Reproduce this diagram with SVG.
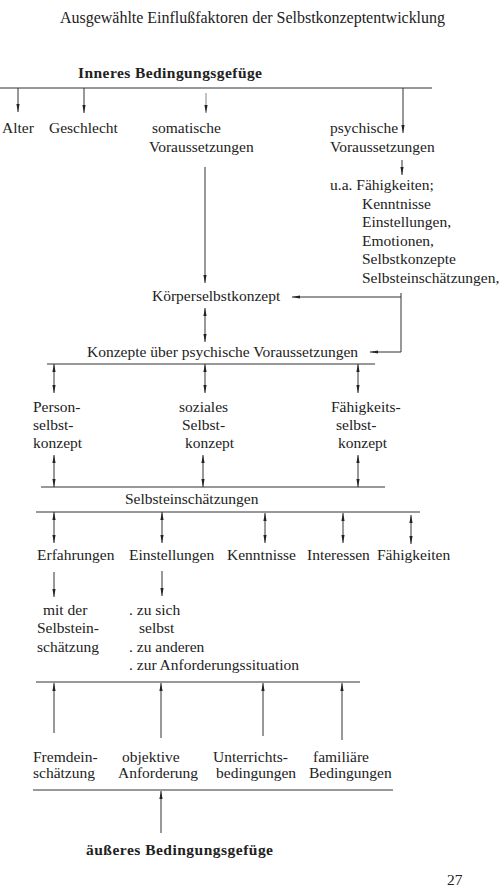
<svg xmlns="http://www.w3.org/2000/svg" width="504" height="895" viewBox="0 0 504 895">
<style>
  text { font-family: "Liberation Serif", "Times New Roman", serif; fill: #222; }
  .t { font-size: 15.5px; }
  .ti { font-size: 16px; }
  .b { font-size: 15.5px; font-weight: bold; }
  .ln { stroke: #333; stroke-width: 1; fill: none; }
  .ar { stroke: #333; stroke-width: 1; fill: none; marker-end: url(#ah); }
  .bi { stroke: #333; stroke-width: 1; fill: none; marker-end: url(#ah); marker-start: url(#ah); }
</style>
<defs>
  <marker id="ah" viewBox="0 0 8 4" refX="8" refY="2" markerWidth="8" markerHeight="4" markerUnits="userSpaceOnUse" orient="auto-start-reverse">
    <path d="M0,0.4 L8,2 L0,3.6 z" fill="#222"/>
  </marker>
</defs>
<rect width="504" height="895" fill="#fff"/>

<g id="title"><text class="ti" x="60" y="23" textLength="385" lengthAdjust="spacing">Ausgewählte Einflußfaktoren der Selbstkonzeptentwicklung</text></g>
<g id="inneres"><text class="b" x="78" y="78" textLength="184" lengthAdjust="spacing">Inneres Bedingungsgefüge</text></g>
<g id="alter"><text class="t" x="2" y="133">Alter</text></g>
<g id="geschlecht"><text class="t" x="49" y="133">Geschlecht</text></g>
<g id="somatische"><text class="t" x="152" y="133">somatische</text><text class="t" x="149" y="152">Voraussetzungen</text></g>
<g id="psychische"><text class="t" x="330" y="133">psychische</text><text class="t" x="330" y="152">Voraussetzungen</text></g>
<g id="ua">
  <text class="t" x="330" y="190">u.a. Fähigkeiten;</text>
  <text class="t" x="362" y="208.5">Kenntnisse</text>
  <text class="t" x="362" y="227">Einstellungen,</text>
  <text class="t" x="362" y="245.5">Emotionen,</text>
  <text class="t" x="362" y="264">Selbstkonzepte</text>
  <text class="t" x="362" y="282.5">Selbsteinschätzungen,</text>
</g>
<g id="koerper"><text class="t" x="152" y="301">Körperselbstkonzept</text></g>
<g id="konzepte"><text class="t" x="87" y="357">Konzepte über psychische Voraussetzungen</text></g>
<g id="person"><text class="t" x="33" y="412">Person-</text><text class="t" x="33" y="430">selbst-</text><text class="t" x="33" y="448">konzept</text></g>
<g id="sozial"><text class="t" x="179" y="412">soziales</text><text class="t" x="182" y="430">Selbst-</text><text class="t" x="185" y="448">konzept</text></g>
<g id="faehigkeits"><text class="t" x="331" y="412">Fähigkeits-</text><text class="t" x="336" y="430">selbst-</text><text class="t" x="338" y="448">konzept</text></g>
<g id="selbsteinsch"><text class="t" x="125" y="504">Selbsteinschätzungen</text></g>
<g id="erfahrungen"><text class="t" x="37" y="560">Erfahrungen</text></g>
<g id="einstellungen"><text class="t" x="129" y="560">Einstellungen</text></g>
<g id="kenntnisse"><text class="t" x="227" y="560">Kenntnisse</text></g>
<g id="interessen"><text class="t" x="307" y="560">Interessen</text></g>
<g id="faehigkeiten"><text class="t" x="377" y="560">Fähigkeiten</text></g>
<g id="mitder"><text class="t" x="43" y="615">mit der</text><text class="t" x="37" y="633">Selbstein-</text><text class="t" x="37" y="652">schätzung</text></g>
<g id="zusich">
  <text class="t" x="129" y="615">. zu sich</text>
  <text class="t" x="139" y="633">selbst</text>
  <text class="t" x="129" y="652">. zu anderen</text>
  <text class="t" x="129" y="670">. zur Anforderungssituation</text>
</g>
<g id="fremd"><text class="t" x="33" y="762">Fremdein-</text><text class="t" x="33" y="778">schätzung</text></g>
<g id="objektiv"><text class="t" x="122" y="762">objektive</text><text class="t" x="118" y="778">Anforderung</text></g>
<g id="unterricht"><text class="t" x="213" y="762">Unterrichts-</text><text class="t" x="216" y="778">bedingungen</text></g>
<g id="familiaer"><text class="t" x="313" y="762">familiäre</text><text class="t" x="309" y="778">Bedingungen</text></g>
<g id="aeusseres"><text class="b" x="86" y="855" textLength="187" lengthAdjust="spacing">äußeres Bedingungsgefüge</text></g>
<g id="page"><text class="t" x="447" y="885">27</text></g>

<g id="connectors">
  <line class="ln" x1="0" y1="88" x2="432" y2="88"/>
  <line class="ar" x1="18" y1="88" x2="18" y2="112"/>
  <line class="ar" x1="84" y1="88" x2="84" y2="113"/>
  <line class="ar" x1="206" y1="93" x2="206" y2="113" stroke-opacity="0.6"/>
  <line class="ar" x1="403" y1="88" x2="403" y2="133"/>
  <line class="ar" x1="402" y1="160" x2="402" y2="175"/>
  <line class="ar" x1="205" y1="167" x2="205" y2="283"/>
  <path class="ln" d="M401,293 L401,352"/>
  <line class="ar" x1="401" y1="297" x2="292" y2="297"/>
  <line class="ar" x1="401" y1="352" x2="370" y2="352"/>
  <line class="bi" x1="205" y1="308" x2="205" y2="342"/>
  <line class="ln" x1="47" y1="364" x2="375" y2="364"/>
  <line class="bi" x1="54" y1="364" x2="54" y2="393"/>
  <line class="bi" x1="205" y1="364" x2="205" y2="393"/>
  <line class="bi" x1="358" y1="364" x2="358" y2="393"/>
  <line class="bi" x1="54" y1="455" x2="54" y2="487"/>
  <line class="bi" x1="203" y1="455" x2="203" y2="487"/>
  <line class="bi" x1="358" y1="455" x2="358" y2="487"/>
  <line class="ln" x1="41" y1="487" x2="385" y2="487"/>
  <line class="ln" x1="36" y1="512" x2="420" y2="512"/>
  <line class="bi" x1="54" y1="512" x2="54" y2="543"/>
  <line class="bi" x1="162" y1="512" x2="162" y2="543"/>
  <line class="bi" x1="265" y1="513" x2="265" y2="543"/>
  <line class="bi" x1="343" y1="513" x2="343" y2="543"/>
  <line class="bi" x1="411" y1="515" x2="411" y2="544"/>
  <line class="ar" x1="54" y1="572" x2="54" y2="597"/>
  <line class="ar" x1="162" y1="571" x2="162" y2="596"/>
  <line class="ln" x1="36" y1="682" x2="360" y2="682"/>
  <line class="ar" x1="54" y1="733" x2="54" y2="683"/>
  <line class="ar" x1="161" y1="738" x2="161" y2="683"/>
  <line class="ar" x1="263" y1="736" x2="263" y2="683"/>
  <line class="ar" x1="342" y1="740" x2="342" y2="683"/>
  <line class="ln" x1="33" y1="790" x2="393" y2="790"/>
  <line class="ar" x1="161" y1="833" x2="161" y2="791"/>
</g>
</svg>
